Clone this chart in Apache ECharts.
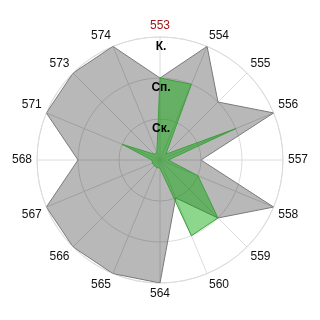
<!DOCTYPE html>
<html>
<head>
<meta charset="utf-8">
<script src="https://cdn.jsdelivr.net/npm/echarts@6/dist/echarts.min.js"></script>
<style>html,body{margin:0;padding:0;background:#fff}#c{width:320px;height:320px}</style>
</head>
<body>
<div id="c"></div>
<script>
const categories = ['553','554','555','556','557','558','559','560','564','565','566','567','568','571','573','574'];
const grayValues = [2,3,2,3,1,3,2,1,3,3,3,3,2,3,3,3];
const greenValues = [2,2,0.2,2,0.2,1,2,2,0.2,0.2,0.2,0.2,0.2,1,0.2,0.2];
const levelLabels = ['', 'Ск.', 'Сп.', 'К.'];

function closedPolar(vals) {
  const d = vals.map((v, i) => [v, i]);
  d.push([vals[0], vals.length]);
  return d;
}

const chart = echarts.init(document.getElementById('c'), null, {renderer: 'canvas'});
chart.setOption({
  animation: false,
  polar: [
    {center: ['50%', '50%'], radius: 123},
    {center: ['50%', '50%'], radius: 123, z: 10}
  ],
  angleAxis: [
    {
      polarIndex: 0, type: 'value', min: 0, max: categories.length, interval: 1,
      startAngle: 90, clockwise: true,
      axisLine: {show: true, lineStyle: {color: '#dcdcdc', width: 1}},
      axisTick: {show: false},
      splitLine: {show: true, lineStyle: {color: '#dcdcdc', width: 1}},
      axisLabel: {
        margin: 5, fontSize: 12, fontFamily: 'Liberation Sans, Arial, sans-serif', color: '#111',
        formatter: function (v) {
          if (v >= categories.length) return '';
          const c = categories[Math.round(v)];
          return Math.round(v) === 0 ? '{r|' + c + '}' : c;
        },
        rich: {r: {color: '#a01818', fontSize: 12, fontFamily: 'Liberation Sans, Arial, sans-serif'}}
      }
    },
    {
      polarIndex: 1, type: 'value', min: 0, max: categories.length, interval: 1,
      startAngle: 90, show: false
    }
  ],
  radiusAxis: [
    {
      polarIndex: 0, type: 'value', min: 0, max: 3, interval: 1,
      axisLine: {show: false}, axisTick: {show: false}, axisLabel: {show: false},
      splitLine: {show: true, lineStyle: {color: '#dcdcdc', width: 1}}
    },
    {
      polarIndex: 1, type: 'value', min: 0, max: 3, interval: 1, z: 10,
      axisLine: {show: false}, axisTick: {show: false}, splitLine: {show: false},
      axisLabel: {
        show: true, margin: 0, align: 'center', verticalAlign: 'top',
        fontSize: 12, fontWeight: 'bold', color: '#000',
        fontFamily: 'Liberation Sans, Arial, sans-serif',
        padding: [4, 0, 0, 2],
        formatter: function (v) { return levelLabels[Math.round(v)] || ''; }
      }
    }
  ],
  series: [
    {
      type: 'line', coordinateSystem: 'polar', polarIndex: 0,
      data: closedPolar(grayValues), symbol: 'none', smooth: false,
      lineStyle: {color: '#7a7a7a', width: 1},
      areaStyle: {color: 'rgba(0,0,0,0.28)', opacity: 1},
      z: 2
    },
    {
      type: 'line', coordinateSystem: 'polar', polarIndex: 0,
      data: closedPolar(greenValues), symbol: 'none', smooth: false,
      lineStyle: {color: '#3f9f3f', width: 1},
      areaStyle: {color: 'rgba(0,166,0,0.45)', opacity: 1},
      z: 3
    }
  ]
});
</script>
</body>
</html>
